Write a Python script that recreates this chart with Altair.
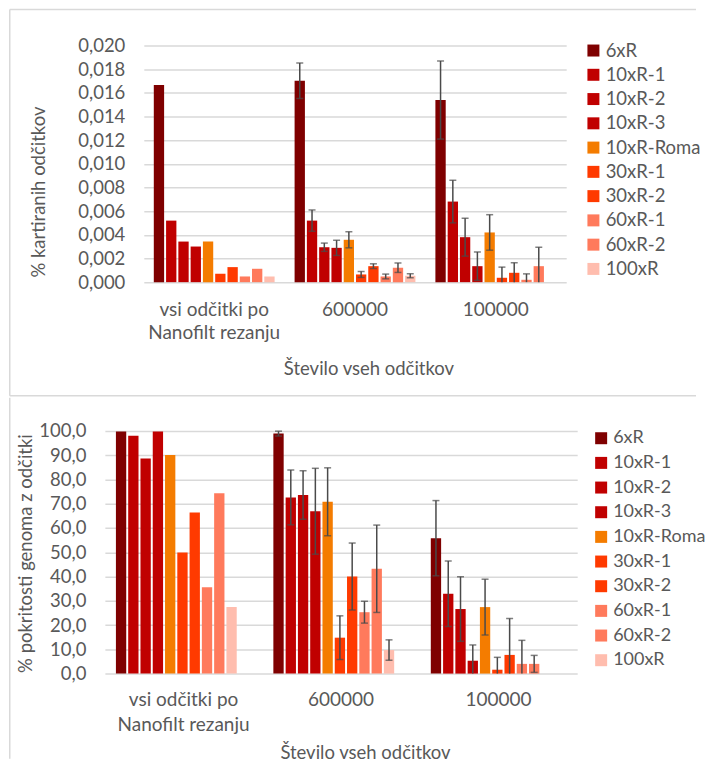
import altair as alt
import pandas as pd

# ---------------- data ----------------
series = ["6xR", "10xR-1", "10xR-2", "10xR-3", "10xR-Roma",
          "30xR-1", "30xR-2", "60xR-1", "60xR-2", "100xR"]
colors = ["#7F0000", "#C00000", "#C00000", "#C00000", "#F47C00",
          "#FF3A00", "#FF3A00", "#FF7A5C", "#FF7A5C", "#FFBDAE"]
groups = ["vsi odčitki po Nanofilt rezanju", "600000", "100000"]

# % kartiranih odčitkov
map_all = [0.01666, 0.0052, 0.00343, 0.00301, 0.00343, 0.00071, 0.00127, 0.00048, 0.00113, 0.00048]
map_all_err = [None] * 10
map_600k = [0.01702, 0.0052, 0.00295, 0.0029, 0.00358, 0.00065, 0.00135, 0.00048, 0.00122, 0.00054]
map_600k_err = [0.0015, 0.0009, 0.00035, 0.00064, 0.00068, 0.00025, 0.0002, 0.0002, 0.0004, 0.00017]
map_100k = [0.01539, 0.00681, 0.0038, 0.00135, 0.0042, 0.00037, 0.00079, 0.0002, 0.00135, None]
map_100k_err = [0.0033, 0.0018, 0.0016, 0.0012, 0.0015, 0.0009, 0.00085, 0.0005, 0.0016, None]

# % pokritosti genoma z odčitki
cov_all = [99.8, 98.0, 88.6, 99.8, 90.1, 49.9, 66.4, 35.6, 74.3, 27.4]
cov_all_err = [None] * 10
cov_600k = [98.9, 72.6, 73.6, 66.9, 70.8, 14.8, 40.0, 25.3, 43.2, 9.7]
cov_600k_err = [1.0, 11.3, 10.0, 17.7, 14.0, 9.0, 13.8, 4.5, 18.0, 4.2]
cov_100k = [55.8, 32.9, 26.6, 5.3, 27.4, 1.6, 7.7, 4.0, 4.0, None]
cov_100k_err = [15.5, 13.5, 13.3, 6.5, 11.5, 5.1, 15.0, 9.7, 3.5, None]

map_ticks = [0.000, 0.002, 0.004, 0.006, 0.008, 0.010, 0.012, 0.014, 0.016, 0.018, 0.020]
cov_ticks = [0, 10, 20, 30, 40, 50, 60, 70, 80, 90, 100]

TXT = "#595959"
GRID = "#d9d9d9"
ERR = "#4a4a4a"
FONT = "Lato"


def build(vals_by_group, errs_by_group):
    rows = []
    for g, vals, errs in zip(groups, vals_by_group, errs_by_group):
        for s, v, e in zip(series, vals, errs):
            if v is None:
                continue
            row = {"group": g, "series": s, "value": v}
            if e is not None:
                row["hi"] = v + e
                row["lo"] = max(v - e, 0.0)
                row["lo_cap"] = (v - e) if v - e > 0 else None
            rows.append(row)
    return pd.DataFrame(rows)


def panel(df, ticks, fmt, width, height, ytitle, ytx, yty, xtx, xty,
          inner, lab_pad, line_h, leg_x, leg_y, leg_pad, leg_font, lines):
    base = alt.Chart(df)
    xaxis = alt.Axis(
        labelExpr="datum.label == 'vsi odčitki po Nanofilt rezanju' ? ['vsi odčitki po', 'Nanofilt rezanju'] : datum.label",
        labelAngle=0, domain=False, ticks=False, labelPadding=lab_pad,
        labelFontSize=19, labelLineHeight=line_h, labelColor=TXT,
        labelFont=FONT,
        title="Število vseh odčitkov", titleFont=FONT, titleFontSize=18.5,
        titleFontWeight="normal", titleColor=TXT, titleX=xtx, titleY=xty,
        titleAlign="center", titleBaseline="middle")
    xenc = alt.X("group:N", sort=groups,
                 scale=alt.Scale(paddingInner=0.128, paddingOuter=0.064),
                 axis=xaxis)
    xoff = alt.XOffset("series:N", sort=series,
                       scale=alt.Scale(paddingInner=inner, paddingOuter=inner / 2))
    yscale = alt.Scale(domain=[ticks[0], ticks[-1]], nice=False)
    yaxis = alt.Axis(values=ticks, labelOverlap=False,
                     labelExpr="replace(format(datum.value, '%s'), '.', ',')" % fmt,
                     grid=True, gridColor=GRID, gridWidth=1.5, domain=False,
                     ticks=False, labelPadding=19, labelFontSize=18.5,
                     labelColor=TXT, labelFont=FONT,
                     title=ytitle, titleFont=FONT, titleFontSize=18.5,
                     titleFontWeight="normal", titleColor=TXT,
                     titleX=ytx, titleY=yty, titleAngle=270,
                     titleAlign="center", titleBaseline="middle")
    color = alt.Color("series:N", sort=series,
                      scale=alt.Scale(domain=series, range=colors),
                      legend=alt.Legend(title=None, orient="none", legendX=leg_x,
                                        legendY=leg_y, direction="vertical",
                                        symbolType="square", symbolSize=144,
                                        symbolStrokeWidth=0, labelFontSize=leg_font,
                                        labelFont=FONT, labelColor=TXT,
                                        rowPadding=leg_pad, labelOffset=3, padding=0))

    bars = base.mark_bar().encode(
        x=xenc, xOffset=xoff, y=alt.Y("value:Q", scale=yscale, axis=yaxis), color=color)
    err = base.transform_filter("isValid(datum.hi)").mark_rule(
        color=ERR, strokeWidth=1.5).encode(
        x=xenc, xOffset=xoff, y=alt.Y("lo:Q", scale=yscale, axis=yaxis), y2="hi:Q")
    cap_hi = base.transform_filter("isValid(datum.hi)").mark_tick(
        orient="horizontal", size=7, thickness=1.5, color=ERR).encode(
        x=xenc, xOffset=xoff, y=alt.Y("hi:Q", scale=yscale, axis=yaxis))
    cap_lo = base.transform_filter("isValid(datum.lo_cap)").mark_tick(
        orient="horizontal", size=7, thickness=1.5, color=ERR).encode(
        x=xenc, xOffset=xoff, y=alt.Y("lo_cap:Q", scale=yscale, axis=yaxis))

    fdat = alt.Chart(pd.DataFrame({"f": [0]}))
    layers = [bars, err, cap_hi, cap_lo]
    for (x1, y1, x2, y2) in lines:
        enc = {"x": alt.value(x1), "y": alt.value(y1)}
        if x2 is not None:
            enc["x2"] = alt.value(x2)
        if y2 is not None:
            enc["y2"] = alt.value(y2)
        layers.append(fdat.mark_rule(color=GRID, strokeWidth=1.5).encode(**enc))

    return alt.layer(*layers).properties(width=width, height=height)


def spacer():
    return alt.Chart(pd.DataFrame({"s": [0]})).mark_rule(
        strokeWidth=0, strokeOpacity=0).encode(
        x=alt.value(0), y=alt.value(0), y2=alt.value(0)).properties(width=1, height=1)


# frame of the top chart: top border, left border, divider (bottom border)
top_lines = [(-134.25, -35.95, 553, None), (-134.25, -35.95, None, 350.8),
             (-134.25, 350.8, 553, None)]
# frame of the bottom chart: left border only
bottom_lines = [(-95.25, -33.25, None, 328.3)]

top = panel(build([map_all, map_600k, map_100k], [map_all_err, map_600k_err, map_100k_err]),
            map_ticks, ".3f", 423, 237, "% kartiranih odčitkov",
            -105.5, 146.3, 225, 86.3, 0.16, 18, 23, 441, -4.2, 5.3, 18.5, top_lines)
bottom = panel(build([cov_all, cov_600k, cov_100k], [cov_all_err, cov_600k_err, cov_100k_err]),
               cov_ticks, ".1f", 473, 243, "% pokritosti genoma z odčitki",
               -79.5, 122.3, 260.5, 79.3, 0.2, 17, 25, 488, -1.7, 6.7, 18, bottom_lines)

row1 = alt.hconcat(spacer(), top, spacing=0).resolve_scale(color="independent")
row2 = alt.hconcat(spacer(), bottom, spacing=0).resolve_scale(color="independent")

chart = alt.vconcat(row1, row2, spacing=0).resolve_scale(
    color="independent").properties(
    padding={"left": 0, "top": 0, "right": 0, "bottom": 0}
).configure(font=FONT, background="white").configure_view(strokeWidth=0)

chart.save("out.html", embed_options={"renderer": "svg", "actions": False})
